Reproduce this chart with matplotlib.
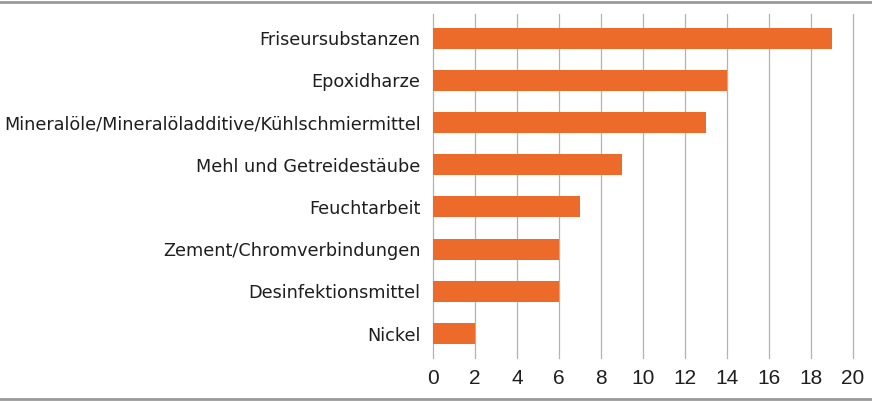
import matplotlib
matplotlib.use("Agg")
import matplotlib.pyplot as plt
from matplotlib.lines import Line2D

categories = [
    "Friseursubstanzen",
    "Epoxidharze",
    "Mineralöle/Mineralöladditive/Kühlschmiermittel",
    "Mehl und Getreidestäube",
    "Feuchtarbeit",
    "Zement/Chromverbindungen",
    "Desinfektionsmittel",
    "Nickel",
]
values = [19, 14, 13, 9, 7, 6, 6, 2]
xticks = [0, 2, 4, 6, 8, 10, 12, 14, 16, 18, 20]

plt.rcParams['font.family'] = ['DejaVu Sans']

fig = plt.figure(figsize=(8.72, 4.01), dpi=100)
ax = fig.add_axes([433 / 872, 1 - 358 / 401, 420 / 872, 344 / 401])

pos = list(range(len(categories)))
ax.barh(pos, values, height=0.5, color="#ED6B2A", zorder=3)
ax.set_ylim(len(categories) - 1 + 0.58, -0.57)
ax.set_xlim(0, 20)
ax.set_xticks(xticks)
ax.set_xticklabels([str(t) for t in xticks], fontsize=15,
                   family=['Liberation Sans', 'DejaVu Sans'])
ax.set_yticks(pos)
ax.set_yticklabels(categories, fontsize=12.7)
ax.tick_params(axis="both", length=0, colors="#1E1E1E")
ax.tick_params(axis="y", pad=9)
ax.tick_params(axis="x", pad=8)
ax.grid(axis="x", color="#B2B2B2", linewidth=0.9, zorder=0)
# keep the last gridline (at 20) from being clipped at the axes edge
for gl in ax.get_xgridlines():
    gl.set_clip_on(False)
for s in ax.spines.values():
    s.set_visible(False)

# grey rules along the top and bottom edge of the figure
for y in (1 - 1.5 / 401, 1 - 398.5 / 401):
    fig.add_artist(Line2D([0, 1], [y, y], transform=fig.transFigure,
                          color="#9A9A9A", linewidth=2))

fig.savefig("out.png", dpi=100)
